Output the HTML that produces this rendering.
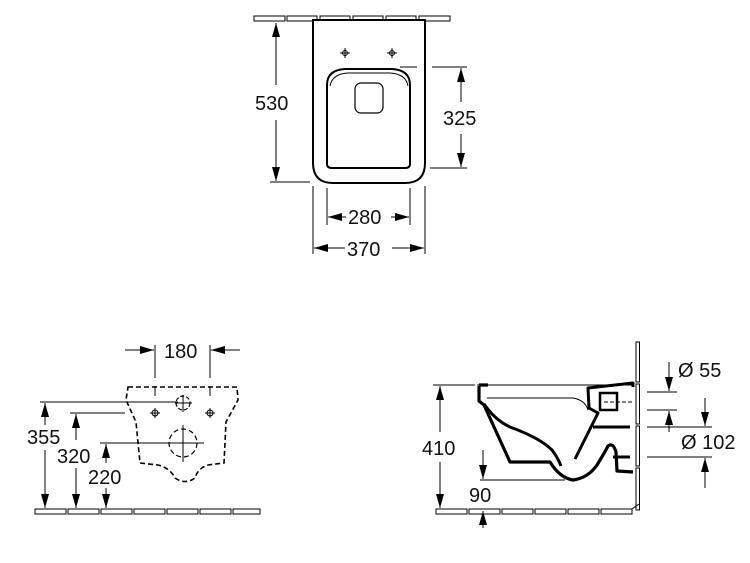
<!DOCTYPE html>
<html><head><meta charset="utf-8"><style>
html,body{margin:0;padding:0;background:#fff;}
svg{display:block;}
text{font-family:"Liberation Sans",sans-serif;font-size:20px;fill:#111;}
</style></head><body>
<svg width="750" height="563" viewBox="0 0 750 563" xmlns="http://www.w3.org/2000/svg">
<defs>
<marker id="a" viewBox="0 0 10 10" refX="10" refY="5" markerWidth="14" markerHeight="10" markerUnits="userSpaceOnUse" orient="auto" preserveAspectRatio="none"><path d="M0,1 L10,5 L0,9z" fill="#000"/></marker>
</defs>
<g stroke="#000" fill="none" stroke-width="1">
<!-- TOP VIEW -->
<g fill="#fff">
<rect x="254" y="16" width="31" height="5"/><rect x="287" y="16" width="30" height="5"/><rect x="320" y="16" width="30" height="5"/><rect x="353" y="16" width="30" height="5"/><rect x="386" y="16" width="30" height="5"/><rect x="419" y="16" width="31" height="5"/>
</g>
<path d="M313,20 V163 Q313,183 333,183 H405 Q425,183 425,163 V20 Z" fill="#fff" stroke-width="2"/>
<path d="M327,85 Q327,70 345,69 H392 Q410,70 410,85 V164 Q410,168 405,168 H332 Q327,168 327,164 Z" stroke-width="2"/>
<path d="M330,86 Q332,74 348,73 H390 Q406,74 408,86"/>
<rect x="355" y="83" width="28" height="30" rx="6" stroke-width="1.2"/>
<circle cx="345" cy="53" r="2.5"/><path d="M340,53h10M345,48v10"/><circle cx="392" cy="53" r="2.5"/><path d="M387,53h10M392,48v10"/>
<path d="M270,182 H310 M400,67 H417 M432,67 H467 M430,168 H467 M327,188 V225 M410,188 V225 M313,186 V254 M425,186 V254"/>
<line x1="276" y1="85" x2="276" y2="23" marker-end="url(#a)"/>
<line x1="276" y1="120" x2="276" y2="181" marker-end="url(#a)"/>
<line x1="461" y1="102" x2="461" y2="68" marker-end="url(#a)"/>
<line x1="461" y1="134" x2="461" y2="167" marker-end="url(#a)"/>
<line x1="346" y1="217" x2="328" y2="217" marker-end="url(#a)"/>
<line x1="391" y1="217" x2="409" y2="217" marker-end="url(#a)"/>
<line x1="345" y1="248" x2="314" y2="248" marker-end="url(#a)"/>
<line x1="392" y1="248" x2="424" y2="248" marker-end="url(#a)"/>

<!-- BOTTOM LEFT -->
<g fill="#fff"><rect x="35" y="509" width="31" height="5"/><rect x="68" y="509" width="31" height="5"/><rect x="101" y="509" width="31" height="5"/><rect x="134" y="509" width="31" height="5"/><rect x="167" y="509" width="31" height="5"/><rect x="200" y="509" width="31" height="5"/><rect x="233" y="509" width="27" height="5"/></g>
<path d="M128,387 L237,387 L238,400 L226,422 L224,463 L208,465 Q198,468 195,478 Q185,485 175,478 Q170,468 158,465 L140,463 L136,422 L126,400 Z" stroke-width="1.6" stroke-dasharray="5,3"/>
<circle cx="183" cy="403" r="7" stroke-width="1.2" stroke-dasharray="4,2"/>
<path d="M183,395v17M175,403h17"/>
<circle cx="183" cy="443" r="14" stroke-width="1.2" stroke-dasharray="5,3"/>
<path d="M183,425v37M162,443h42"/>
<circle cx="155" cy="413" r="3"/><circle cx="210" cy="413" r="3"/>
<path d="M150,413h10M155,408v10M205,413h10M210,408v10"/>
<path d="M155,345 V378 M210,345 V378 M155,386 V396 M210,386 V396"/>
<line x1="125" y1="350" x2="154" y2="350" marker-end="url(#a)"/>
<line x1="240" y1="350" x2="211" y2="350" marker-end="url(#a)"/>
<path d="M40,402 H178 M70,413 H125 M100,443 H170"/>
<line x1="45" y1="425" x2="45" y2="403" marker-end="url(#a)"/>
<line x1="45" y1="450" x2="45" y2="508" marker-end="url(#a)"/>
<line x1="76" y1="440" x2="76" y2="414" marker-end="url(#a)"/>
<line x1="76" y1="468" x2="76" y2="508" marker-end="url(#a)"/>
<line x1="106" y1="463" x2="106" y2="444" marker-end="url(#a)"/>
<line x1="106" y1="488" x2="106" y2="508" marker-end="url(#a)"/>

<!-- BOTTOM RIGHT -->
<g fill="#fff"><rect x="436" y="509" width="31" height="5"/><rect x="469" y="509" width="31" height="5"/><rect x="502" y="509" width="31" height="5"/><rect x="535" y="509" width="31" height="5"/><rect x="568" y="509" width="31" height="5"/><rect x="601" y="509" width="31" height="5"/>
<rect x="636" y="342" width="3.5" height="40"/><rect x="636" y="384" width="3.5" height="40"/><rect x="636" y="426" width="3.5" height="40"/><rect x="636" y="468" width="3.5" height="42"/></g>
<path d="M632,509 L639,504"/>
<path d="M477,385 H633 M487,398 H573 Q585,400 588,410"/>
<path d="M479,385 H488 M479,386 V401 L484,405 L510,462 H550 Q560,478 573,480 Q588,478 597,465 Q605,452 608,446 Q613,442 616,452 L617,471 L633,472" stroke-width="3.2" stroke-linejoin="round"/>
<path d="M484,404 Q495,420 510,427 Q540,438 552,450 Q558,458 561,466" stroke-width="3" />
<path d="M575,459 L598,413 L589,408 L588,388 L633,383 L633,387" stroke-width="3" stroke-linejoin="round"/>
<rect x="600" y="393" width="17" height="17" stroke-width="2.5"/>
<path d="M593,427 H630 M613,457 H630" stroke-width="3"/>
<path d="M604,402 H632" stroke-dasharray="4,2"/>
<path d="M433,385 H475 M480,480 H565 M647,392 H677 M647,410 H677 M647,427 H712 M647,457 H712"/>
<line x1="440" y1="432" x2="440" y2="386" marker-end="url(#a)"/>
<line x1="440" y1="462" x2="440" y2="508" marker-end="url(#a)"/>
<line x1="483" y1="450" x2="483" y2="479" marker-end="url(#a)"/>
<line x1="483" y1="528" x2="483" y2="511" marker-end="url(#a)"/>
<line x1="669" y1="362" x2="669" y2="391" marker-end="url(#a)"/>
<line x1="669" y1="432" x2="669" y2="411" marker-end="url(#a)"/>
<line x1="705" y1="398" x2="705" y2="426" marker-end="url(#a)"/>
<line x1="705" y1="488" x2="705" y2="458" marker-end="url(#a)"/>
</g>
<text x="255" y="110">530</text>
<text x="443" y="125">325</text>
<text x="348" y="224">280</text>
<text x="347" y="256">370</text>
<text x="164" y="358">180</text>
<text x="27" y="444">355</text>
<text x="57" y="463">320</text>
<text x="88" y="484">220</text>
<text x="422" y="455">410</text>
<text x="469" y="502">90</text>
<text x="678" y="377">Ø 55</text>
<text x="681" y="449">Ø 102</text>
</svg>
</body></html>
